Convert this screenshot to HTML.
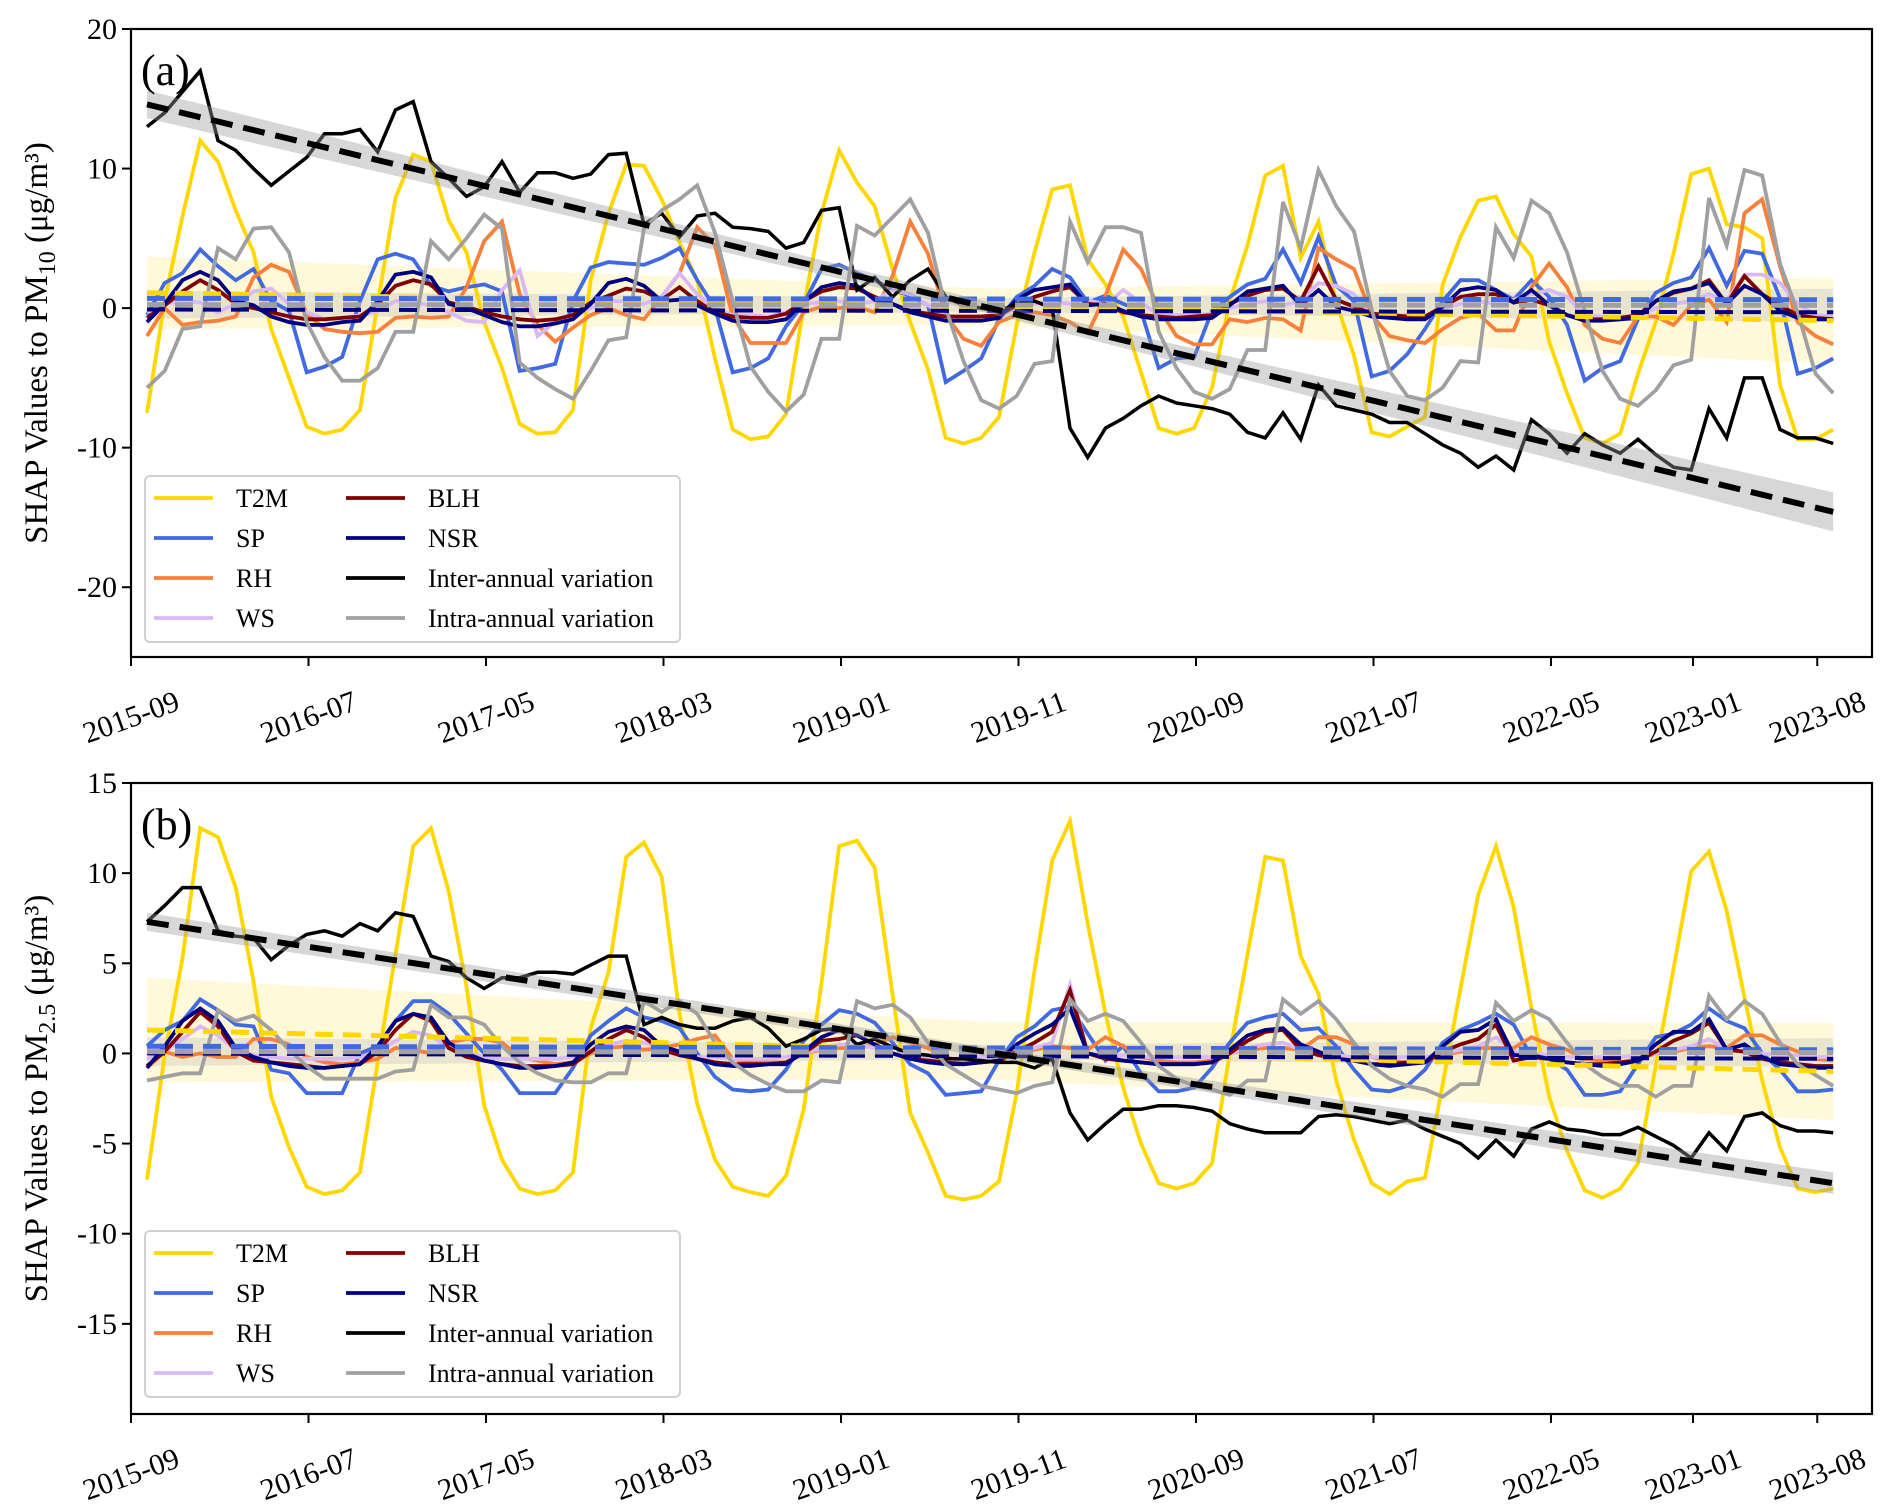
<!DOCTYPE html>
<html><head><meta charset="utf-8"><style>
html,body{margin:0;padding:0;background:#fff;}
svg{display:block;font-family:"Liberation Serif","DejaVu Serif",serif;}
</style></head><body>
<svg id="chart" width="1892" height="1507" viewBox="0 0 1892 1507" xmlns="http://www.w3.org/2000/svg"></svg>
<script>
// ---------- data ----------
const xTickLabels = ["2015-09","2016-07","2017-05","2018-03","2019-01","2019-11","2020-09","2021-07","2022-05","2023-01","2023-08"];
const xTickMonths = [0,10,20,30,40,50,60,70,80,88,95];
const yTicksA = [-20,-10,0,10,20];
const yTicksB = [-15,-10,-5,0,5,10,15];

const t2mA = [-7.5,0.5,6.6,12,10.5,7,4,-1.5,-5,-8.5,-9,-8.7,
-7.3,0.3,7.9,11,10.5,6.3,4,-1,-4.3,-8.3,-9,-8.9,
-7.3,2,6.8,10.3,10.2,7.8,4.7,2,-3.6,-8.7,-9.4,-9.2,
-7.6,0.1,6.8,11.3,9,7.3,2.8,-1,-4.4,-9.3,-9.7,-9.3,
-7.8,-1.2,4,8.5,8.8,3.5,1.7,-0.6,-4.6,-8.6,-9,-8.6,
-5.7,0.5,4.5,9.5,10.2,3.6,6.2,0.4,-3.4,-8.9,-9.2,-8.5,
-7.8,1.7,5.1,7.7,8,5.3,3.7,-2.4,-6.1,-9.3,-9.7,-9,
-4.7,-1,3.9,9.6,10,6,5.8,5,-5.5,-9.4,-9.4,-8.7];
const spA = [-0.5,1.8,2.5,4.2,3,2,2.8,0.5,-0.2,-4.6,-4.2,-3.5,
0.5,3.5,3.9,3.5,1.6,1.2,1.5,1.7,1.2,-4.5,-4.3,-4,
0.5,2.9,3.3,3.2,3.1,3.6,4.3,2,0,-4.6,-4.3,-3.6,
-1.3,0.3,2.8,3.1,2.5,2,1.3,0.9,0.2,-5.3,-4.5,-3.6,
-0.8,0.8,1.6,2.8,2.2,0.4,0.9,0.3,-0.2,-4.3,-3.6,-3.5,
-0.2,0.8,1.7,2.1,4.2,1.8,5.1,1.6,0.5,-4.9,-4.5,-3.3,
-1.5,0.5,2,2,1.3,0.6,2,0.8,-1.2,-5.2,-4.3,-3.8,
-0.8,1.1,1.8,2.2,4.3,1.6,4.1,3.9,0.7,-4.7,-4.3,-3.6];
const rhA = [-2,0,-1.2,-1,-0.9,-0.6,2.2,3.1,2.6,-0.4,-1.5,-1.7,
-1.8,-1.7,-0.7,-0.6,-0.7,-0.6,1.5,4.8,6.2,1,-1.2,-2.4,
-1.4,-0.5,0,-0.5,-0.8,0.8,2.5,5.8,4.5,-0.6,-2.5,-2.5,
-2.5,-0.3,0.1,0,0.1,-0.3,2.3,6.2,3.9,-0.5,-2.2,-2.7,
-1,-0.5,-0.3,-0.5,-1,-1.8,0.9,4.2,2.8,0,-2,-2.6,
-2.6,-0.8,-1,-0.7,-0.8,-1.6,4.3,3.5,2.8,-0.5,-2,-2.3,
-2.5,-1.5,-0.7,-0.4,-1.6,-1.6,1.5,3.2,1.5,-1.2,-2.2,-2.5,
-0.6,-0.6,-1.2,0.2,0.6,-1,6.8,7.8,3,-1,-2,-2.6];
const wsA = [-0.3,0.3,0.5,0.4,-0.3,0.3,1.2,1.4,0.3,-0.3,-0.8,-0.7,
-0.5,-0.2,0.5,0.4,0.2,-0.3,-0.9,-1,1.3,2.7,-2,-1,
-0.5,0,0.5,0.5,0.3,0.8,2.5,1,0,-0.5,-0.5,-0.6,
-0.3,0.3,0.4,0.5,0.3,0.5,1.3,1,0.2,-0.5,-0.8,-0.6,
-0.5,0,0.3,0.5,0.3,0.6,0.2,1.3,0.4,-0.5,-0.5,-0.5,
-0.4,0,0.3,0.5,0.2,0.5,1.8,1.6,1,-0.6,-0.5,-0.5,
-0.6,0,0.3,0.5,0.3,0.6,1,1.3,0.8,-0.5,-0.6,-0.6,
-0.6,0,0.3,0.5,1,0.5,2.4,2.4,1.8,0.3,-0.5,-0.6];
const blhA = [-0.7,0.2,1.2,2,1.3,0.3,0,-0.3,-0.6,-0.8,-0.8,-0.7,
-0.6,0.3,1.6,2,1.7,0.4,0.1,-0.3,-0.6,-0.8,-0.9,-0.8,
-0.5,0.4,0.9,1.4,1.2,0.6,1.5,0.5,-0.3,-0.6,-0.7,-0.7,
-0.4,0.5,1.2,1.5,1.4,0.8,0.3,-0.2,-0.4,-0.6,-0.6,-0.6,
-0.5,0.2,0.8,1.2,1.5,0.3,0.2,-0.3,-0.5,-0.6,-0.7,-0.6,
-0.5,0.3,0.9,1.3,1.4,0.5,3,0.6,0.1,-0.4,-0.5,-0.6,
-0.6,0.1,0.8,1,1,0.4,0.6,0.2,-0.5,-0.8,-0.8,-0.7,
-0.5,0.5,1.1,1.4,2,0.3,2.3,1,0.2,-0.5,-0.7,-0.8];
const nsrA = [-1,0.3,2,2.6,2,0.5,0.2,-0.6,-1,-1.2,-1.2,-1,
-0.9,0.5,2.4,2.6,2.2,0.3,0,-0.5,-1,-1.3,-1.3,-1.1,
-0.8,0.3,1.8,2.1,1.6,0.5,0.6,0.2,-0.4,-0.9,-1,-1,
-0.8,0.4,1.5,1.8,1.6,0.6,0.3,-0.3,-0.6,-0.9,-0.9,-0.9,
-0.7,0.6,1.3,1.5,1.7,0.2,0.3,-0.2,-0.6,-0.8,-0.8,-0.8,
-0.7,0.2,1.2,1.4,1.6,0.2,1.3,0.1,-0.2,-0.6,-0.7,-0.8,
-0.8,0.1,1.3,1.5,1.3,0.4,1.3,0.2,-0.5,-0.9,-0.9,-0.8,
-0.7,0.5,1.2,1.4,1.8,0.3,1.6,1,-0.2,-0.7,-0.8,-0.8];
const interA = [13,14,15.5,17,12,11.3,10,8.8,9.8,10.8,12.5,12.5,
12.8,11.2,14.2,14.8,10.5,9.3,8,8.7,10.5,8.3,9.7,9.7,
9.3,9.6,11,11.1,6,6.8,5.1,6.6,6.8,5.8,5.7,5.5,
4.3,4.7,7,7.2,1.3,2.2,0.8,2,2.8,0.8,0.2,0,
-0.2,0.3,0.5,0,-8.6,-10.7,-8.6,-7.9,-7,-6.3,-6.8,-7,
-7.2,-7.6,-8.9,-9.3,-7.5,-9.4,-5.5,-7,-7.3,-7.6,-8.2,-8.2,
-9,-9.8,-10.4,-11.4,-10.6,-11.6,-8,-9,-10.4,-9,-9.8,-10.4,
-9.4,-10.5,-11.4,-11.6,-7.2,-9.3,-5,-5,-8.7,-9.3,-9.3,-9.7];
const intraA = [-5.7,-4.5,-1.5,-1.3,4.3,3.5,5.7,5.8,4,-1,-3.5,-5.2,
-5.2,-4.3,-1.7,-1.7,4.8,3.5,5,6.7,5.7,-3.9,-5,-5.8,
-6.5,-4.5,-2.3,-2.1,5.7,7,7.8,8.8,5.4,0.5,-4.2,-6,
-7.4,-6.2,-2.2,-2.2,5.9,5.2,6.5,7.8,5.4,0,-3.8,-6.6,
-7.2,-6.3,-4,-3.8,6.2,3.3,5.8,5.8,5.4,-1.7,-4.3,-6,
-6.5,-5.8,-3,-3,7.6,4.3,9.9,7.3,5.5,-0.1,-4.5,-6.3,
-6.6,-5.7,-3.8,-3.9,5.8,3.6,7.7,6.8,4,-0.2,-4.5,-6.5,
-7,-5.9,-4.1,-3.7,7.9,4.5,9.9,9.5,3.2,-0.3,-4.7,-6.1];

const t2mB = [-7,-0.1,5.3,12.5,12,9.2,4,-2.4,-5.2,-7.4,-7.8,-7.6,
-6.6,-0.5,5.5,11.5,12.5,9,3.7,-2.9,-5.9,-7.5,-7.8,-7.6,
-6.6,1.4,4.5,10.9,11.7,9.8,2.2,-2.8,-5.9,-7.4,-7.7,-7.9,
-6.8,-3.1,3.9,11.5,11.8,10.3,3.3,-3.3,-5.5,-7.9,-8.1,-7.9,
-7.1,-2.2,4.6,10.7,12.9,7.2,2.2,-1.9,-5,-7.2,-7.5,-7.2,
-6.1,0,5.5,10.9,10.7,5.4,3.3,-1.5,-4.8,-7.2,-7.8,-7.1,
-6.9,-1.7,3.6,8.8,11.5,8.1,2.5,-2.4,-5.4,-7.6,-8,-7.5,
-6.1,-0.7,4.7,10.1,11.2,7.9,3.1,-1.5,-5.2,-7.5,-7.7,-7.5];
const spB = [0.4,1.3,1.8,3,2.4,1.6,1.5,-0.9,-1.1,-2.2,-2.2,-2.2,
0,0.4,1.8,2.9,2.9,2.2,1.1,0,-0.9,-2.2,-2.2,-2.2,
-0.8,1,1.8,2.5,2,1.8,1.4,0,-1.3,-2,-2.1,-2,
-0.9,0.7,1.6,2.4,2.2,1.7,0.6,-0.6,-1.1,-2.3,-2.2,-2.1,
-0.4,0.9,1.5,2.4,2.6,1.1,-0.4,0.4,-1.1,-2.1,-2.1,-1.9,
-0.8,0.6,1.7,2,2.2,1.3,1.4,0.4,-0.9,-2,-2.1,-1.8,
-0.9,0.6,1.3,1.7,2.2,1.6,-0.2,-0.3,-0.9,-2.3,-2.3,-2.1,
-0.6,0.9,1.1,1.6,2.5,1.8,1.4,0,-0.9,-2.1,-2.1,-2];
const rhB = [-0.8,0.1,-0.2,0,-0.2,-0.2,0.8,0.8,0.5,-0.2,-0.5,-0.6,
-0.5,-0.3,0.3,0.2,0,0.6,0.8,0.8,0.6,-0.2,-0.4,-0.6,
-0.5,0,0.3,0.4,0.2,0.3,0.5,0.8,1,-0.3,-0.5,-0.5,
-0.5,0,0.2,0.3,0.3,0.5,0.9,0.6,0.3,-0.2,-0.5,-0.5,
-0.4,0,0.2,0.4,0.3,0.2,0.9,0.4,-0.2,-0.4,-0.5,-0.5,
-0.4,0,0.2,0.3,0.3,0.2,0.9,0.9,0.5,-0.2,-0.4,-0.5,
-0.4,-0.1,0.1,0.3,0.3,0.3,0.9,0.5,0.2,-0.3,-0.4,-0.5,
-0.3,0,0.1,0.3,0.4,0.3,1,1,0.5,0.1,-0.3,-0.4];
const wsB = [-0.3,0.1,0.8,1.5,1,0.2,-0.1,-0.2,-0.3,-0.3,-0.3,-0.3,
-0.2,0.1,0.7,1.2,1,0.3,0,-0.2,-0.3,-0.3,-0.3,-0.3,
-0.2,0.1,0.5,0.7,0.6,0.3,0,-0.2,-0.2,-0.3,-0.3,-0.3,
-0.2,0,0.3,0.5,0.5,0.3,0,-0.1,-0.2,-0.3,-0.3,-0.2,
-0.2,0.1,0.3,0.6,3.8,0,-0.1,-0.1,-0.2,-0.2,-0.2,-0.2,
-0.2,0,0.3,0.5,0.6,0.2,0,-0.1,-0.2,-0.2,-0.2,-0.2,
-0.2,0,0.2,0.4,0.9,0.1,0,-0.1,-0.2,-0.2,-0.2,-0.2,
-0.1,0,0.2,0.4,0.8,0.2,0.1,0,-0.1,-0.1,-0.2,-0.2];
const blhB = [-0.7,0.1,1.2,2.3,1.5,0.1,-0.4,-0.5,-0.6,-0.7,-0.8,-0.7,
-0.6,0.1,1.3,2.2,1.8,0.3,-0.2,-0.4,-0.6,-0.7,-0.7,-0.7,
-0.6,0.1,0.8,1.3,0.9,0.2,-0.1,-0.3,-0.5,-0.6,-0.6,-0.6,
-0.5,0,0.7,0.8,1,0.5,0,-0.3,-0.4,-0.5,-0.6,-0.5,
-0.4,0.1,0.6,1.2,3.5,0,-0.3,-0.4,-0.5,-0.6,-0.6,-0.6,
-0.5,0,0.7,1.2,1.3,0.2,-0.1,-0.3,-0.4,-0.6,-0.6,-0.5,
-0.5,0.1,0.5,0.8,1.6,-0.4,-0.2,-0.3,-0.5,-0.6,-0.6,-0.5,
-0.4,0.1,0.7,1.1,1.7,0.2,0.1,-0.3,-0.5,-0.6,-0.7,-0.7];
const nsrB = [-0.8,0.4,1.8,2.5,1.8,0.3,-0.2,-0.5,-0.7,-0.8,-0.8,-0.7,
-0.6,0.4,1.8,2.2,2,0.6,0,-0.4,-0.6,-0.8,-0.8,-0.7,
-0.5,0.5,1.2,1.5,1.3,0.4,0.1,-0.3,-0.6,-0.7,-0.7,-0.6,
-0.6,0.1,0.9,1.3,1,0.5,0,-0.3,-0.5,-0.6,-0.6,-0.5,
-0.4,0.5,1.1,1.6,2.5,0,-0.2,-0.4,-0.5,-0.6,-0.6,-0.6,
-0.5,0.2,1,1.3,1.4,0.5,0.1,-0.3,-0.4,-0.6,-0.7,-0.6,
-0.5,0.4,1.2,1.3,1.9,-0.1,-0.1,-0.3,-0.5,-0.6,-0.7,-0.6,
-0.4,0.5,1.2,1.2,1.9,0.2,0.5,-0.2,-0.6,-0.7,-0.8,-0.8];
const interB = [7.3,8.2,9.2,9.2,6.8,6.5,6.4,5.2,6,6.6,6.8,6.5,
7.2,6.8,7.8,7.6,5.4,5.1,4.2,3.6,4.2,4.2,4.5,4.5,
4.4,4.9,5.4,5.4,1.6,2,1.6,1.4,1.4,1.8,2,1.4,
0.4,0.8,1.3,1.4,0.5,0.8,0.35,0,-0.1,-0.3,-0.3,-0.4,
-0.5,-0.5,-0.8,-0.3,-3.3,-4.8,-3.9,-3.1,-3.1,-2.9,-2.9,-3,
-3.2,-3.9,-4.2,-4.4,-4.4,-4.4,-3.5,-3.4,-3.5,-3.7,-3.9,-3.7,
-4.2,-4.6,-5,-5.8,-4.8,-5.7,-4.2,-3.8,-4.2,-4.3,-4.5,-4.5,
-4.1,-4.6,-5.1,-5.8,-4.4,-5.4,-3.5,-3.3,-4,-4.3,-4.3,-4.4];
const intraB = [-1.5,-1.3,-1.1,-1.1,2.4,1.8,2.1,1.3,0.2,-0.7,-1.4,-1.4,
-1.4,-1.4,-1,-0.9,2.7,2,2,1.6,0.4,-0.5,-1.1,-1.5,
-1.6,-1.6,-1.1,-1.1,2.9,2.3,2.9,2.2,0.6,-0.5,-1.2,-1.7,
-2.1,-2.1,-1.5,-1.6,2.9,2.5,2.7,2,0.6,-0.6,-1.2,-1.8,
-2,-2.2,-1.8,-1.6,3,1.8,2.2,1.8,0.6,-0.7,-1.4,-1.8,
-2,-2.3,-1.5,-1.5,3,2.2,2.9,1.9,0.6,-0.7,-1.4,-1.8,
-2,-2.4,-1.7,-1.7,2.8,1.8,2.4,1.9,0.6,-0.6,-1.3,-1.8,
-1.8,-2.4,-1.8,-1.8,3.2,1.9,2.9,2.2,0.6,-0.6,-1.2,-1.8];

// fitted trend lines: [start, end] values and band half-widths [start, middle, end]
const interTrendA = [14.6,-14.6];
const interBandA = [1.0,0.4,1.4];
const interTrendB = [7.3,-7.2];
const interBandB = [0.5,0.25,0.6];
const t2mTrendA = [1.1,-0.9];
const t2mBandA = [2.6,1.3,3.1];
const t2mTrendB = [1.3,-1.0];
const t2mBandB = [2.9,1.6,2.7];
const spTrendA = [0.7,0.6];
const spTrendB = [0.4,0.2];
const intraTrendA = [0.25,0.2];
const intraTrendB = [0.1,0.05];
const nsrTrendA = [-0.1,-0.3];
const nsrTrendB = [0,-0.3];
const grayBandA = [1.0,0.5,1.2];
const grayBandB = [0.8,0.4,0.8];

// ---------- drawing ----------
const NS = "http://www.w3.org/2000/svg";
const svg = document.getElementById("chart");
function el(tag, attrs, parent){
  const e = document.createElementNS(NS, tag);
  for (const k in attrs) e.setAttribute(k, attrs[k]);
  (parent||svg).appendChild(e);
  return e;
}
const COLORS = {t2m:"#FFD700", sp:"#4169E1", rh:"#F8803A", ws:"#D9B8F7", blh:"#800000", nsr:"#000080", inter:"#000000", intra:"#A0A0A0"};
const X0 = 131, XR = 1872, PXM = 17.75, OFF = 0.9;
function xPos(m){ return X0 + m*PXM; }
function xData(i){ return xPos(i + OFF); }
const N = 96;

function drawPanel(p){
  const g = el("g", {});
  
  
  const yPos = v => p.top + (p.ymax - v) / (p.ymax - p.ymin) * (p.bottom - p.top);
  const clipId = "clip-" + p.name;
  const defs = el("defs", {}, g);
  const cp = el("clipPath", {id: clipId}, defs);
  el("rect", {x: X0, y: p.top, width: XR - X0, height: p.bottom - p.top}, cp);
  const plot = el("g", {"clip-path": "url(#" + clipId + ")"}, g);
  
  

  function band(center, hw, color, op, nm){
    const xs = [xData(0), xData((N-1)/2), xData(N-1)];
    const c = [center[0], (center[0]+center[1])/2, center[1]];
    let pts = [];
    for (let k=0;k<3;k++) pts.push(xs[k]+","+yPos(c[k]+hw[k]));
    for (let k=2;k>=0;k--) pts.push(xs[k]+","+yPos(c[k]-hw[k]));
    const e = el("polygon", {points: pts.join(" "), fill: color, "fill-opacity": op, stroke: "none"}, plot);
    
    
  }
  function trendLine(ends, color, w, dash, nm){
    const e = el("line", {x1: xData(0), y1: yPos(ends[0]), x2: xData(N-1), y2: yPos(ends[1]), stroke: color, "stroke-width": w, "stroke-dasharray": dash}, plot);
    
    
  }
  function series(vals, color, w, nm){
    const pts = vals.map((v,i) => xData(i).toFixed(1)+","+yPos(v).toFixed(1)).join(" ");
    const e = el("polyline", {points: pts, fill: "none", stroke: color, "stroke-width": w, "stroke-linejoin": "miter"}, plot);
    
    
  }
  band(p.t2mTrend, p.t2mBand, "#FFE97A", 0.28, "t2m-confidence-band");
  band(p.intraTrend, p.grayBand, "#B0B0B0", 0.28, "variable-confidence-band");
  series(p.t2m, COLORS.t2m, 3.8, "t2m-line");
  series(p.sp, COLORS.sp, 3.8, "sp-line");
  series(p.rh, COLORS.rh, 3.8, "rh-line");
  series(p.ws, COLORS.ws, 3.8, "ws-line");
  series(p.blh, COLORS.blh, 3.8, "blh-line");
  series(p.nsr, COLORS.nsr, 3.8, "nsr-line");
  series(p.inter, COLORS.inter, 3.5, "inter-annual-line");
  series(p.intra, COLORS.intra, 3.8, "intra-annual-line");
  trendLine(p.t2mTrend, COLORS.t2m, 5, "18 10", "t2m-trend");
  trendLine(p.spTrend, COLORS.sp, 5, "18 10", "sp-trend");
  trendLine(p.nsrTrend, COLORS.nsr, 4, "18 10", "nsr-trend");
  trendLine(p.intraTrend, COLORS.intra, 5, "18 10", "intra-annual-trend");
  band(p.interTrend, p.interBand, "#9A9A9A", 0.4, "inter-annual-trend-band");
  trendLine(p.interTrend, "#000", 6, "22 11", "inter-annual-trend");

  const fr = el("rect", {x: X0, y: p.top, width: XR - X0, height: p.bottom - p.top, fill: "none", stroke: "#000", "stroke-width": 2.2}, g);
  
  

  p.yTicks.forEach(v => {
    const y = yPos(v);
    const t = el("line", {x1: X0 - 9, y1: y, x2: X0, y2: y, stroke: "#000", "stroke-width": 2}, g);
    
    
    const tx = el("text", {x: X0 - 14, y: y + 10, "text-anchor": "end", "font-size": 30, fill: "#000"}, g);
    tx.textContent = String(v);
    
    
  });
  xTickMonths.forEach((m, k) => {
    const x = xPos(m);
    const t = el("line", {x1: x, y1: p.bottom, x2: x, y2: p.bottom + 9, stroke: "#000", "stroke-width": 2}, g);
    
    
    const cy = p.bottom + 60;
    const tx = el("text", {x: x, y: cy + 10, "text-anchor": "middle", "font-size": 30, fill: "#000", transform: "rotate(-20 " + x + " " + cy + ")"}, g);
    tx.textContent = xTickLabels[k];
    
    
  });
  const cyT = (p.top + p.bottom) / 2;
  const yt = el("text", {x: 36, y: cyT, "text-anchor": "middle", "font-size": 33, fill: "#000", transform: "rotate(-90 36 " + cyT + ") translate(0 11)"}, g);
  
  
  yt.appendChild(document.createTextNode("SHAP Values to PM"));
  const sub = el("tspan", {"font-size": 24, dy: 8}, yt);
  sub.textContent = p.sub;
  const rest = el("tspan", {dy: -8}, yt);
  rest.textContent = " (μg/m³)";
  const pl = el("text", {x: 141, y: p.top + 56, "font-size": 44, fill: "#000"}, g);
  pl.textContent = p.label;
  
  

  const lg = el("g", {}, g);
  
  
  const lb = el("rect", {x: 145, y: p.legTop, width: 535, height: 166, rx: 5, fill: "#fff", "fill-opacity": 0.85, stroke: "#d0d0d0", "stroke-width": 2}, lg);
  
  
  const entries = [["T2M",COLORS.t2m,0,0],["SP",COLORS.sp,0,1],["RH",COLORS.rh,0,2],["WS",COLORS.ws,0,3],
    ["BLH",COLORS.blh,1,0],["NSR",COLORS.nsr,1,1],["Inter-annual variation",COLORS.inter,1,2],["Intra-annual variation",COLORS.intra,1,3]];
  entries.forEach(en => {
    const lx = en[2] ? 346 : 154;
    const ly = p.legTop + 22 + en[3] * 40;
    const ent = el("g", {}, lg);
    
    
    el("line", {x1: lx, y1: ly, x2: lx + 59, y2: ly, stroke: en[1], "stroke-width": 3.8}, ent);
    const t = el("text", {x: lx + 82, y: ly + 9, "font-size": 26, fill: "#000"}, ent);
    t.textContent = en[0];
  });
}

drawPanel({name: "panel-a", label: "(a)", sub: "10", top: 29, bottom: 657, ymin: -25, ymax: 20, yTicks: yTicksA, legTop: 476,
  t2m: t2mA, sp: spA, rh: rhA, ws: wsA, blh: blhA, nsr: nsrA, inter: interA, intra: intraA,
  interTrend: interTrendA, interBand: interBandA, t2mTrend: t2mTrendA, t2mBand: t2mBandA,
  spTrend: spTrendA, intraTrend: intraTrendA, nsrTrend: nsrTrendA, grayBand: grayBandA});
drawPanel({name: "panel-b", label: "(b)", sub: "2.5", top: 783, bottom: 1414, ymin: -20, ymax: 15, yTicks: yTicksB, legTop: 1231,
  t2m: t2mB, sp: spB, rh: rhB, ws: wsB, blh: blhB, nsr: nsrB, inter: interB, intra: intraB,
  interTrend: interTrendB, interBand: interBandB, t2mTrend: t2mTrendB, t2mBand: t2mBandB,
  spTrend: spTrendB, intraTrend: intraTrendB, nsrTrend: nsrTrendB, grayBand: grayBandB});
</script>
</body></html>
